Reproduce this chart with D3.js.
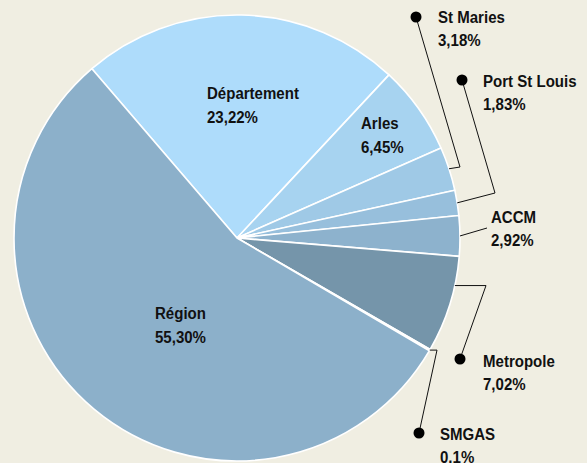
<!DOCTYPE html>
<html>
  <head>
    <meta charset="UTF-8">
    <style>
      html, body {
        margin: 0;
        padding: 0;
        background: #f0eee2;
      }

      svg text {
        font-family: "Liberation Sans", Arial, sans-serif;
        font-weight: bold;
        font-size: 16px;
        fill: #111;
      }
    </style>
    <script src="https://d3js.org/d3.v7.min.js"></script>
  </head>

  <body>
    <svg id="chart"></svg>

    <script type="text/javascript">
      // slices, clockwise from the Département edge
      const names = ['Département', 'Arles', 'St Maries', 'Port St Louis', 'ACCM', 'Metropole', 'SMGAS', 'Région']
      const values = [23.22, 6.45, 3.18, 1.83, 2.92, 7.02, 0.1, 55.30]
      const pctLabels = ['23,22%', '6,45%', '3,18%', '1,83%', '2,92%', '7,02%', '0,1%', '55,30%']
      const colors = ['#aedcfb', '#a7d3f0', '#9fc9e6', '#97bfdc', '#8db2cd', '#7595aa', '#8cb0ca', '#8cb0ca']

      // where the labels go (layout only)
      const insideLabels = {
        'Département': [207, 99],
        'Arles': [361, 129],
        'Région': [155, 319]
      }
      const callouts = {
        'St Maries': { text: [438, 23], dot: [416, 17], at: 0.5, elbow: p => [460, 167] },
        'Port St Louis': { text: [483, 87], dot: [462, 80], at: 0.5, elbow: p => [495, 193] },
        'ACCM': { text: [491, 223], dot: null, at: 0.5, elbow: p => [487, 228] },
        'Metropole': { text: [483, 367], dot: [460, 359], at: 0.3, elbow: p => [486, p[1]] },
        'SMGAS': { text: [440, 440], dot: [419, 433], at: 0.5, elbow: p => [437, p[1]] }
      }

      // narrow bold look
      function addLabel(svg, pos, name, pct, gap) {
        let t = svg.append('text')
          .attr('transform', `translate(${pos[0]}, ${pos[1]}) scale(0.94, 1.02)`)
        t.append('tspan').attr('x', 0).text(name)
        t.append('tspan').attr('x', 0).attr('dy', gap).text(pct)
      }

      function drawChart() {
        let width = 587
        let height = 463
        let cx = 237
        let cy = 238
        let radius = 223

        let svg = d3.select('#chart')
          .attr('width', width)
          .attr('height', height)

        let data = names.map((n, i) => ({ name: n, value: values[i], pct: pctLabels[i], color: colors[i] }))

        let pie = d3.pie()
          .sort(null)
          .value(d => d.value)
          .startAngle(-40.6 * Math.PI / 180)
          .endAngle((360 - 40.6) * Math.PI / 180)

        let arc = d3.arc()
          .innerRadius(0)
          .outerRadius(radius)

        let g = svg.append('g')
          .attr('transform', `translate(${cx}, ${cy})`)

        let arcs = pie(data)

        g.selectAll('path')
          .data(arcs)
          .enter()
          .append('path')
          .attr('d', arc)
          .attr('fill', d => d.data.color)
          .attr('stroke', '#fff')
          .attr('stroke-width', 1.6)
          .attr('stroke-linejoin', 'round')

        // inside labels
        arcs.filter(d => insideLabels[d.data.name]).forEach(d => {
          addLabel(svg, insideLabels[d.data.name], d.data.name, d.data.pct, 23.5)
        })

        // callouts with leader lines
        arcs.filter(d => callouts[d.data.name]).forEach(d => {
          let c = callouts[d.data.name]
          let a = d.startAngle + (d.endAngle - d.startAngle) * c.at
          let p0 = [cx + radius * Math.sin(a), cy - radius * Math.cos(a)]
          let pts = [p0, c.elbow(p0)]
          if (c.dot) pts.push(c.dot)

          svg.append('path')
            .attr('d', d3.line()(pts))
            .attr('fill', 'none')
            .attr('stroke', '#111')
            .attr('stroke-width', 1)

          if (c.dot) {
            svg.append('circle')
              .attr('cx', c.dot[0])
              .attr('cy', c.dot[1])
              .attr('r', 5.5)
              .attr('fill', '#000')
          }

          addLabel(svg, c.text, d.data.name, d.data.pct, 23)
        })
      }

      drawChart()
    </script>
  </body>
</html>
